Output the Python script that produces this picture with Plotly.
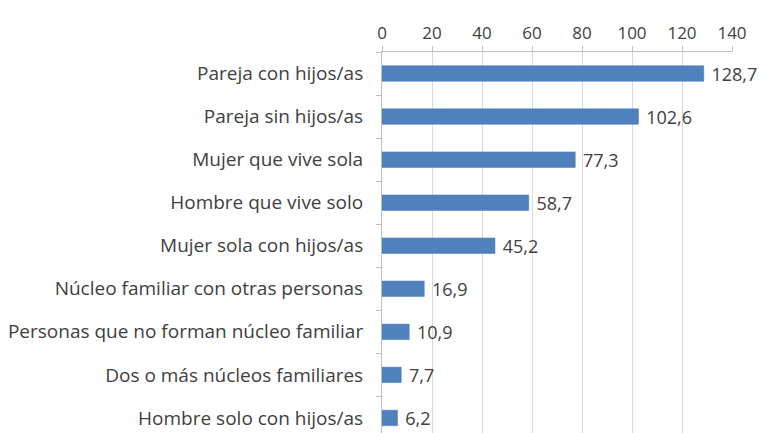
import plotly.graph_objects as go

categories = [
    "Pareja con hijos/as",
    "Pareja sin hijos/as",
    "Mujer que vive sola",
    "Hombre que vive solo",
    "Mujer sola con hijos/as",
    "Núcleo familiar con otras personas",
    "Personas que no forman núcleo familiar",
    "Dos o más núcleos familiares",
    "Hombre solo con hijos/as",
]
values = [128.7, 102.6, 77.3, 58.7, 45.2, 16.9, 10.9, 7.7, 6.2]
x_ticks = [0, 20, 40, 60, 80, 100, 120, 140]

labels = ["\u00a0" + f"{v:.1f}".replace(".", ",") for v in values]

fig = go.Figure(go.Bar(
    x=values, y=categories, orientation="h",
    marker=dict(color="#4f81bd", line=dict(color="#4a7ab5", width=0.5)),
    width=0.36,
    text=labels, textposition="outside", cliponaxis=False,
    constraintext="none",
    textfont=dict(family="Open Sans", size=18, color="#404040"),
))

fig.update_layout(
    width=759, height=425,
    margin=dict(l=372, r=35, t=44, b=0),
    paper_bgcolor="white", plot_bgcolor="white",
    showlegend=False,
    font=dict(family="Open Sans", size=17, color="#404040"),
    xaxis=dict(
        side="top", range=[0, 140], tickvals=x_ticks,
        showgrid=True, gridcolor="#d9d9d9", gridwidth=1,
        showline=True, linecolor="#bfbfbf", linewidth=1,
        ticks="outside", ticklen=5, tickcolor="#bfbfbf",
        zeroline=False, tickfont=dict(size=17, color="#404040"),
    ),
    yaxis=dict(
        type="category", categoryorder="array", categoryarray=categories,
        range=[8.35, -0.5],
        showline=True, linecolor="#bfbfbf", linewidth=1,
        ticks="outside", ticklen=5, tickcolor="#bfbfbf",
        tickson="boundaries", showgrid=False,
        ticklabelstandoff=14,
        tickfont=dict(size=19, color="#404040"),
    ),
)

fig.write_html("out.html")
